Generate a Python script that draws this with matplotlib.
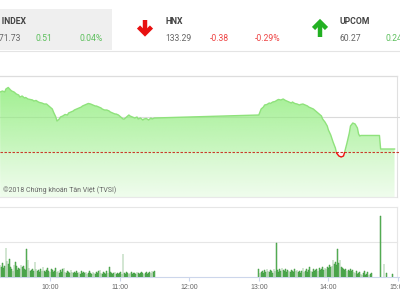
import numpy as np
import matplotlib
matplotlib.use("Agg")
import matplotlib.pyplot as plt
from matplotlib.patches import Rectangle
from matplotlib.lines import Line2D

# ---------------- data ----------------
index_names = ["VN INDEX", "HNX", "UPCOM"]
index_values = ["971.73", "133.29", "60.27"]
index_changes = ["0.51", "-0.38", "0.24"]
index_pcts = ["0.04%", "-0.29%", "0.24%"]

ref_price = 971.22

price_times = ["09:17","09:19","09:21","09:22","09:24","09:26","09:27","09:29","09:31","09:33",
               "09:34","09:36","09:38","09:39","09:41","09:43","09:45","09:46","09:48","09:50",
               "09:51","09:53","09:55","09:57","09:58","10:00","10:02","10:03","10:05","10:06",
               "10:08","10:09","10:11","10:13","10:15","10:16","10:18","10:20","10:21","10:23",
               "10:25","10:27","10:28","10:30","10:32","10:33","10:35","10:37","10:39","10:40",
               "10:42","10:44","10:45","10:47","10:49","10:51","10:52","10:54","10:56","10:57",
               "10:59","11:01","11:03","11:04","11:06","11:08","11:09","11:11","11:13","11:15",
               "11:16","11:18","11:20","11:21","11:23","11:25","11:27","11:28","11:30",
               "13:00","13:01","13:02","13:04","13:05","13:07","13:09","13:10","13:12","13:14",
               "13:16","13:17","13:19","13:21","13:23","13:24","13:26","13:28","13:29","13:31",
               "13:33","13:35","13:36","13:38","13:40","13:42","13:43","13:45","13:47","13:48",
               "13:50","13:52","13:54","13:55","13:57","13:59","14:00","14:02","14:04","14:06",
               "14:07","14:09","14:11","14:13","14:14","14:16","14:18","14:19","14:21","14:23",
               "14:25","14:26","14:27","14:28","14:44","14:45","14:57"]
price_values = [981.42,981.59,981.42,981.93,982.19,981.76,981.59,981.42,981.08,980.91,
                980.57,980.74,980.40,980.49,980.23,980.15,980.06,979.89,979.98,979.72,
                979.64,979.55,979.38,979.38,979.21,978.87,978.53,978.02,977.17,976.49,
                976.83,977.17,977.34,977.60,977.51,977.85,978.02,978.19,978.36,978.53,
                978.70,978.87,979.04,979.21,979.38,979.47,979.38,979.21,979.04,979.04,
                978.87,978.70,978.53,978.36,978.36,978.19,978.02,977.85,977.68,977.68,
                977.51,977.17,976.83,976.83,977.17,977.51,977.34,977.17,977.00,977.17,
                976.83,977.00,976.66,976.83,976.92,976.66,977.00,976.83,977.00,
                977.51,978.02,978.53,978.87,979.21,979.30,979.55,979.47,979.72,979.81,
                980.06,980.15,980.06,980.23,979.98,979.89,979.72,979.55,979.72,979.47,
                979.38,979.21,979.30,979.38,979.21,979.04,978.87,978.70,978.53,978.36,
                978.02,977.68,977.34,976.83,976.32,975.64,974.96,974.11,972.92,971.90,
                971.05,970.54,970.37,970.54,971.22,972.75,974.45,975.64,976.15,975.98,
                975.30,974.28,973.94,974.03,974.03,971.73,971.73]

vol_am_start = "09:17"
vol_am = [12,10,14,9,11,29,16,13,18,10,
          8,6,12,15,11,7,9,8,12,10,
          11,8,7,28,17,9,6,7,8,6,
          15,8,6,7,5,8,6,10,6,5,
          7,9,6,5,8,7,5,6,9,5,
          6,4,7,5,8,9,5,4,6,5,
          4,7,5,4,5,4,6,4,5,3,
          6,4,5,4,5,3,4,6,4,3,
          5,4,3,5,4,6,7,4,3,5,
          4,3,6,4,10,5,4,3,4,5,
          3,4,3,4,5,3,23,4,3,5,
          4,3,4,5,3,4,4,3,5,4,
          3,4,5,4,3,4,5,3,4,5,
          4,6,5,6]
vol_pm_start = "13:00"
vol_pm = [8,4,5,6,4,7,5,8,6,5,
          7,6,4,8,6,34,7,5,8,6,
          9,7,6,8,5,7,6,5,7,6,
          5,8,6,7,5,6,4,6,9,5,
          6,8,5,7,10,6,5,8,6,7,
          8,6,9,7,8,10,7,9,8,10,
          9,12,10,11,17,13,15,12,28,14,
          17,10,9,8,7,8,6,7,6,8,
          6,7,5,4,6,3,4,5,3,2,
          4,6,2,3,5,2,3,4]
vol_late_times = ["14:45", "14:48", "14:50", "14:55"]
vol_late = [61, 13, 4, 3]

tick_labels = ["10:00", "11:00", "12:00", "13:00", "14:00", "15:00"]


def to_min(s):
    h, m = s.split(":")
    return (int(h) - 9) * 60 + int(m)


t = np.array([to_min(s) for s in price_times], float)
v = np.array(price_values, float)

t_am = to_min(vol_am_start) + np.arange(len(vol_am))
t_pm = to_min(vol_pm_start) + np.arange(len(vol_pm))
t_late = np.array([to_min(s) for s in vol_late_times])
vt = np.concatenate([t_am, t_pm, t_late])
vv = np.concatenate([vol_am, vol_pm, vol_late])

# ---------------- figure ----------------
W, H = 400, 300
fig = plt.figure(figsize=(4, 3), dpi=100)
fig.patch.set_facecolor("white")

def fx(x):
    return x / W

def fy(y):
    return 1 - y / H

XMIN, XMAX = 16.9, 361.7
X_RIGHT = XMIN + (XMAX - XMIN) * 397 / 400

# ---- banner ----
fig.patches.append(Rectangle((0, fy(50)), fx(112), 41 / H, transform=fig.transFigure,
                             facecolor="#efefef", edgecolor="none", zorder=0))
fig.lines.append(Line2D([0, 1], [fy(50.5), fy(50.5)], transform=fig.transFigure,
                        color="#e4e4e4", lw=0.8))

green_t = "#5cbf5c"
red_t = "#ee4444"
bfont = dict(family=["Roboto", "DejaVu Sans"], fontsize=6.2)

fig.text(fx(26), fy(24), index_names[0], ha="right", va="baseline", fontweight="bold", color="#444", **bfont)
fig.text(fx(21), fy(41), index_values[0], ha="right", va="baseline", color="#666", **bfont)
fig.text(fx(35), fy(41), index_changes[0], ha="left", va="baseline", color=green_t, **bfont)
fig.text(fx(80), fy(41), index_pcts[0], ha="left", va="baseline", color=green_t, **bfont)

fig.text(fx(165), fy(24), index_names[1], ha="left", va="baseline", fontweight="bold", color="#444", **bfont)
fig.text(fx(165), fy(41), index_values[1], ha="left", va="baseline", color="#666", **bfont)
fig.text(fx(210), fy(41), index_changes[1], ha="left", va="baseline", color=red_t, **bfont)
fig.text(fx(255), fy(41), index_pcts[1], ha="left", va="baseline", color=red_t, **bfont)

fig.text(fx(340), fy(24), index_names[2], ha="left", va="baseline", fontweight="bold", color="#444", **bfont)
fig.text(fx(340), fy(41), index_values[2], ha="left", va="baseline", color="#666", **bfont)
fig.text(fx(386), fy(41), index_changes[2], ha="left", va="baseline", color=green_t, **bfont)

# arrows
for pts in ([(145, 20), (145, 33)], [(138.5, 27), (145, 33.5), (151.5, 27)]):
    xs, ys = zip(*pts)
    fig.lines.append(Line2D([fx(a) for a in xs], [fy(b) for b in ys], transform=fig.transFigure,
                            color="#e81010", lw=3.2, solid_capstyle="butt", solid_joinstyle="miter"))
for pts in ([(320, 23), (320, 37)], [(313.5, 28.5), (320, 22), (326.5, 28.5)]):
    xs, ys = zip(*pts)
    fig.lines.append(Line2D([fx(a) for a in xs], [fy(b) for b in ys], transform=fig.transFigure,
                            color="#22b022", lw=3.2, solid_capstyle="butt", solid_joinstyle="miter"))

# ---- price panel ----
ax = fig.add_axes([0, fy(197), 1, 121 / H])
YB, YT = 963.57, 984.14
ax.set_xlim(XMIN, XMAX)
ax.set_ylim(YB, YT)
ax.set_xticks([])
ax.set_yticks([])
for s in ax.spines.values():
    s.set_visible(False)
ax.set_facecolor("none")

ax.plot([XMIN, X_RIGHT], [YT, YT], color="#dddddd", lw=0.9, clip_on=False, zorder=0.5)
ax.plot([XMIN, X_RIGHT], [YB, YB], color="#e8e8e8", lw=0.8, clip_on=False, zorder=0.5)
ax.plot([X_RIGHT, X_RIGHT], [YB, YT], color="#e0e0e0", lw=0.8, clip_on=False, zorder=0.5)
ax.axhline(977.17, color="#dadada", lw=0.8, zorder=0.5)

# gradient fill
poly = ax.fill_between(t, v, YB, facecolor="none", edgecolor="none")
n = 200
rows = np.linspace(YT, YB, n)
alpha = np.interp(rows, [YB, ref_price, ref_price + 0.001, YT], [0.14, 0.38, 0.47, 0.9])
base = np.array([144, 237, 125]) / 255.0
grad = np.zeros((n, 2, 4))
grad[:, :, :3] = base
grad[:, :, 3] = alpha[:, None]
im = ax.imshow(grad, extent=[XMIN, XMAX, YB, YT], aspect="auto", origin="upper",
               interpolation="bilinear", zorder=1)
im.set_clip_path(poly.get_paths()[0], transform=ax.transData)

ax.fill_between(t, v, ref_price, where=v < ref_price, interpolate=True,
                facecolor="#fff6f6", edgecolor="none", zorder=1.5)

ax.axhline(ref_price, color="#c83a2a", lw=0.8, ls=(0, (2.2, 1.4)), zorder=2)

lg, = ax.plot(t, v, color="#8fe27c", lw=1.0, zorder=3)
lg.set_clip_path(Rectangle((XMIN, ref_price), XMAX - XMIN, YT - ref_price, transform=ax.transData))
lr, = ax.plot(t, v, color="#ee1111", lw=1.0, zorder=3)
lr.set_clip_path(Rectangle((XMIN, YB), XMAX - XMIN, ref_price - YB, transform=ax.transData))

ax.text(3 / 400, (197 - 192) / 121, "©2018 Chứng khoán Tân Việt (TVSI)", transform=ax.transAxes,
        ha="left", va="baseline", fontsize=5.0, color="#666666",
        family=["Roboto", "DejaVu Sans"], zorder=4)

# ---- volume panel ----
axv = fig.add_axes([0, fy(277), 1, 70 / H])
axv.set_xlim(XMIN, XMAX)
axv.set_ylim(0, 70)
axv.set_facecolor("none")
for k in ("top", "left", "right"):
    axv.spines[k].set_visible(False)
axv.spines["bottom"].set_color("#ccd6eb")
axv.spines["bottom"].set_linewidth(0.8)
axv.set_yticks([])
axv.plot([XMIN, X_RIGHT], [70, 70], color="#e6e6e6", lw=0.8, clip_on=False, zorder=0.5)
axv.plot([XMIN, X_RIGHT], [35, 35], color="#e6e6e6", lw=0.8, zorder=0.5)
axv.plot([X_RIGHT, X_RIGHT], [0, 70], color="#e6e6e6", lw=0.8, clip_on=False, zorder=0.5)

axv.bar(vt, vv, width=0.65, color="#6cc46c", edgecolor="#2f8a2f", linewidth=0.3, zorder=2)

axv.set_xticks([to_min(s) for s in tick_labels])
axv.set_xticklabels(tick_labels)
axv.tick_params(axis="x", length=3, width=0.8, color="#ccd6eb", labelsize=5,
                labelcolor="#666666", pad=2)
for lab in axv.get_xticklabels():
    lab.set_family(["Liberation Sans", "DejaVu Sans"])

fig.savefig("out.png", dpi=100)
